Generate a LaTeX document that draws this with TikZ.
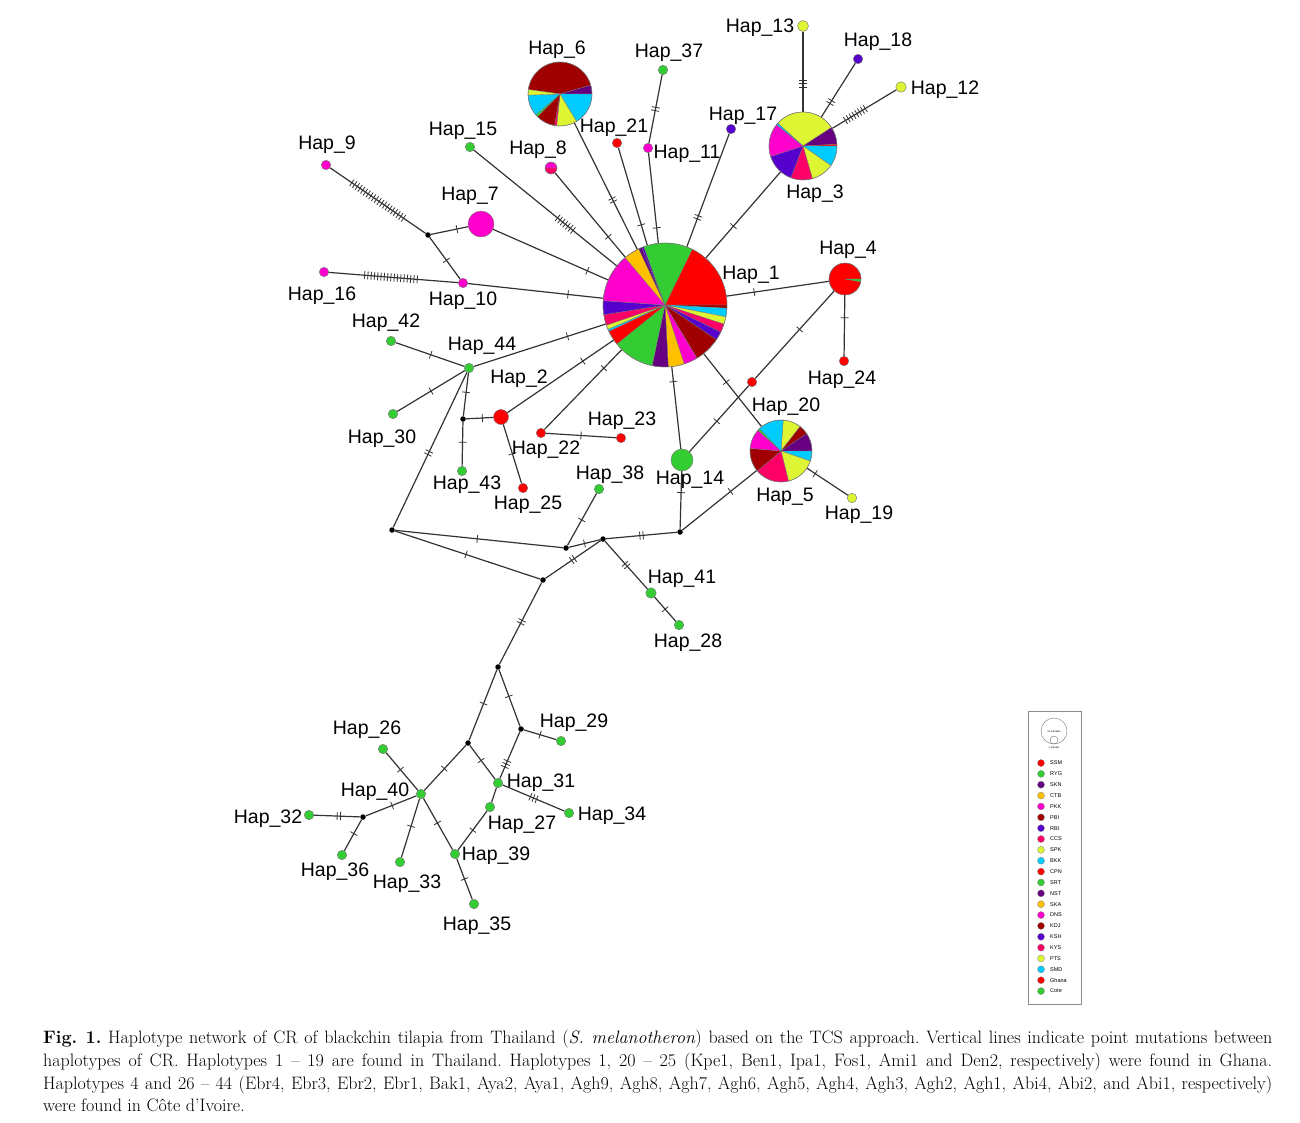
\documentclass[tikz,border=0pt]{standalone}
\usepackage{fontspec}
\newfontfamily\arial{Liberation Sans}
\usetikzlibrary{decorations.markings}

\definecolor{ssm}{RGB}{255,0,0}
\definecolor{ryg}{RGB}{51,204,51}
\definecolor{skn}{RGB}{102,0,128}
\definecolor{ctb}{RGB}{255,192,0}
\definecolor{pkk}{RGB}{255,0,204}
\definecolor{pbi}{RGB}{160,0,0}
\definecolor{rbi}{RGB}{85,0,204}
\definecolor{ccs}{RGB}{255,0,102}
\definecolor{spk}{RGB}{221,245,51}
\definecolor{bkk}{RGB}{0,204,255}

\tikzset{
	hap/.style={circle, draw=black!55, line width=0.4pt, inner sep=0pt, minimum size=9.5pt},
	big/.style={circle, inner sep=0pt, minimum size=#1},
	jn/.style={circle, fill=black, inner sep=0pt, minimum size=5.5pt},
	lab/.style={font=\arial\fontsize{19.5}{22}\selectfont, inner sep=0pt, yshift=-3pt},
	link/.style={line width=1.2pt, draw=black!80},
	mut/.style 2 args={postaction={decorate, decoration={markings, mark=at position #2 with {\foreach \k in {1,...,#1} {\draw[line width=0.8pt, black!80] ({(\k-(#1+1)/2)*3.3pt},-4pt) -- ({(\k-(#1+1)/2)*3.3pt},4pt);}}}}},
	legdot/.style={circle, draw=black!50, line width=0.3pt, inner sep=0pt, minimum size=7pt},
	legtxt/.style={font=\arial\fontsize{5.5}{6}\selectfont, inner sep=0pt, anchor=west}
}

% pie: centre node, radius, slices from/to/colour
\newcommand\hpie[3]{%
	\foreach \a/\b/\c in {#3} {\filldraw[fill=\c, draw=black!55, line width=0.3pt] (#1.center) -- ++(\a:#2) arc (\a:\b:#2) -- cycle;}
	\draw[black!55, line width=0.4pt] (#1.center) circle (#2);
}

\begin{document}
\begin{tikzpicture}[x=1pt, y=-1pt]
	\useasboundingbox (0,0) rectangle (1300,1122);

	% haplotypes with pies
	\node[big=124pt] (h1) at (665,305) {};
	\node[big=64pt] (h6) at (560,94) {};
	\node[big=68pt] (h3) at (803,146) {};
	\node[big=62pt] (h5) at (781,451) {};
	\node[big=32pt] (h4) at (845,279) {};
	\node[big=12pt] (h8) at (551,168) {};

	% single haplotypes
	\node[hap, fill=pkk, minimum size=26pt] (h7) at (481,224) {};
	\node[hap, fill=ssm, minimum size=15pt] (h2) at (501,417) {};
	\node[hap, fill=ryg, minimum size=22pt] (h14) at (682,460) {};
	\node[hap, fill=ryg] (h37) at (663,70) {};
	\node[hap, fill=ssm] (h21) at (617,143) {};
	\node[hap, fill=pkk] (h11) at (648,148) {};
	\node[hap, fill=rbi] (h17) at (731,129) {};
	\node[hap, fill=spk, minimum size=11pt] (h13) at (803,26) {};
	\node[hap, fill=rbi] (h18) at (858,59) {};
	\node[hap, fill=spk, minimum size=10.5pt] (h12) at (901,87) {};
	\node[hap, fill=ryg] (h15) at (470,147) {};
	\node[hap, fill=pkk] (h9) at (326,165) {};
	\node[hap, fill=pkk] (h16) at (324,272) {};
	\node[hap, fill=pkk] (h10) at (463,283) {};
	\node[hap, fill=ryg] (h42) at (391,341) {};
	\node[hap, fill=ryg] (h44) at (469,368) {};
	\node[hap, fill=ryg] (h30) at (393,414) {};
	\node[hap, fill=ryg] (h43) at (462,471) {};
	\node[hap, fill=ssm] (h25) at (523,488) {};
	\node[hap, fill=ssm] (h22) at (541,433) {};
	\node[hap, fill=ssm] (h23) at (621,438) {};
	\node[hap, fill=ryg] (h38) at (599,489) {};
	\node[hap, fill=ssm] (h20) at (752,382) {};
	\node[hap, fill=ssm] (h24) at (844,361) {};
	\node[hap, fill=spk] (h19) at (852,498) {};
	\node[hap, fill=ryg, minimum size=10.5pt] (h41) at (651,593) {};
	\node[hap, fill=ryg] (h28) at (679,625) {};
	\node[hap, fill=ryg] (h29) at (561,741) {};
	\node[hap, fill=ryg] (h26) at (383,749) {};
	\node[hap, fill=ryg] (h40) at (421,794) {};
	\node[hap, fill=ryg] (h31) at (498,783) {};
	\node[hap, fill=ryg] (h27) at (490,807) {};
	\node[hap, fill=ryg] (h34) at (569,813) {};
	\node[hap, fill=ryg] (h32) at (309,815) {};
	\node[hap, fill=ryg] (h36) at (342,855) {};
	\node[hap, fill=ryg] (h33) at (400,862) {};
	\node[hap, fill=ryg] (h39) at (455,854) {};
	\node[hap, fill=ryg] (h35) at (474,904) {};

	% median vectors
	\node[jn] (j1) at (428,235) {};
	\node[jn] (j2) at (463,419) {};
	\node[jn] (j3) at (392,530) {};
	\node[jn] (j4) at (566,548) {};
	\node[jn] (j5) at (603,539) {};
	\node[jn] (j6) at (680,532) {};
	\node[jn] (j7) at (543,580) {};
	\node[jn] (j8) at (498,667) {};
	\node[jn] (j9) at (468,743) {};
	\node[jn] (j10) at (521,729) {};
	\node[jn] (j11) at (363,817) {};

	% links and mutations
	\draw[link, mut={2}{0.61}] (h6) -- (h1);
	\draw[link, mut={1}{0.76}] (h8) -- (h1);
	\draw[link, mut={1}{0.79}] (h21) -- (h1);
	\draw[link, mut={2}{0.5}] (h37) -- (h11);
	\draw[link, mut={1}{0.83}] (h11) -- (h1);
	\draw[link, mut={2}{0.74}] (h17) -- (h1);
	\draw[link, mut={1}{0.63}] (h3) -- (h1);
	\draw[link, mut={3}{0.35}] (h3) -- (h13);
	\draw[link, mut={2}{0.28}] (h3) -- (h18);
	\draw[link, mut={8}{0.36}] (h3) -- (h12);
	\draw[link, mut={7}{0.64}] (h15) -- (h1);
	\draw[link, mut={20}{0.5}] (h9) -- (j1);
	\draw[link, mut={1}{0.7}] (j1) -- (h7);
	\draw[link, mut={1}{0.55}] (j1) -- (h10);
	\draw[link, mut={17}{0.48}] (h16) -- (h10);
	\draw[link, mut={1}{0.82}] (h7) -- (h1);
	\draw[link, mut={1}{0.74}] (h10) -- (h1);
	\draw[link, mut={1}{0.71}] (h44) -- (h1);
	\draw[link, mut={1}{0.71}] (h2) -- (h1);
	\draw[link, mut={1}{0.77}] (h22) -- (h1);
	\draw[link, mut={1}{0.18}] (h1) -- (h14);
	\draw[link, mut={1}{0.39}] (h1) -- (h5);
	\draw[link, mut={1}{0.27}] (h1) -- (h4);
	\draw[link, mut={1}{0.37}] (h4) -- (h24);
	\draw[link, mut={1}{0.44}] (h4) -- (h20);
	\draw[link, mut={1}{0.54}] (h20) -- (h14);
	\draw[link, mut={1}{0.37}] (h14) -- (j6);
	\draw[link, mut={1}{0.65}] (j6) -- (h5);
	\draw[link, mut={1}{0.2}] (h5) -- (h19);
	\draw[link, mut={1}{0.51}] (h42) -- (h44);
	\draw[link, mut={1}{0.5}] (h30) -- (h44);
	\draw[link, mut={1}{0.45}] (h44) -- (j2);
	\draw[link, mut={1}{0.46}] (j2) -- (h43);
	\draw[link, mut={1}{0.6}] (j2) -- (h2);
	\draw[link, mut={1}{0.5}] (h2) -- (h25);
	\draw[link, mut={1}{0.5}] (h22) -- (h23);
	\draw[link, mut={2}{0.52}] (h44) -- (j3);
	\draw[link, mut={1}{0.49}] (j3) -- (j4);
	\draw[link, mut={1}{0.49}] (j3) -- (j7);
	\draw[link, mut={1}{0.5}] (j4) -- (j5);
	\draw[link, mut={1}{0.49}] (j4) -- (h38);
	\draw[link, mut={2}{0.5}] (j5) -- (j6);
	\draw[link, mut={2}{0.5}] (j5) -- (j7);
	\draw[link, mut={2}{0.5}] (j5) -- (h41);
	\draw[link, mut={1}{0.5}] (h41) -- (h28);
	\draw[link, mut={2}{0.48}] (j7) -- (j8);
	\draw[link, mut={1}{0.48}] (j8) -- (j9);
	\draw[link, mut={1}{0.47}] (j8) -- (j10);
	\draw[link, mut={1}{0.5}] (j10) -- (h29);
	\draw[link, mut={3}{0.69}] (j10) -- (h31);
	\draw[link, mut={1}{0.45}] (j9) -- (h31);
	\draw[link, mut={1}{0.52}] (j9) -- (h40);
	\draw[link, mut={3}{0.5}] (h31) -- (h34);
	\draw[link] (h31) -- (h27);
	\draw[link, mut={1}{0.49}] (h27) -- (h39);
	\draw[link, mut={1}{0.45}] (h26) -- (h40);
	\draw[link, mut={1}{0.48}] (h40) -- (j11);
	\draw[link, mut={2}{0.46}] (j11) -- (h32);
	\draw[link, mut={1}{0.45}] (j11) -- (h36);
	\draw[link, mut={1}{0.47}] (h40) -- (h33);
	\draw[link, mut={1}{0.48}] (h40) -- (h39);
	\draw[link, mut={1}{0.5}] (h39) -- (h35);

	% pies
	\hpie{h1}{62}{-64/0/ssm, 0/3/pbi, 3/11/bkk, 11/18/spk, 18/26/ccs, 26/34/rbi, 34/59/pbi, 59/72/pkk, 72/87/ctb, 87/102/skn, 102/141/ryg, 141/155/ssm, 155/157/bkk, 157/161/spk, 161/171/ccs, 171/184/rbi, 184/230/pkk, 230/245/ctb, 245/248/skn, 248/250/rbi, 250/296/ryg}
	\hpie{h6}{32}{188/344/pbi, 344/360/skn, 0/59/bkk, 59/96/spk, 96/100/ccs, 100/135/pbi, 135/139/ryg, 139/178/bkk, 178/188/spk}
	\hpie{h3}{34}{222/327/spk, 327/357/skn, 357/360/ssm, 0/35/bkk, 35/74/spk, 74/111/ccs, 111/162/rbi, 162/219/pkk, 219/222/bkk}
	\hpie{h5}{31}{274/308/spk, 308/326/pbi, 326/360/skn, 0/19/bkk, 19/76/spk, 76/140/ccs, 140/185/pbi, 185/222/pkk, 222/226/ryg, 226/274/bkk}
	\hpie{h4}{16}{10/360/ssm, 0/10/ryg}
	\hpie{h8}{6}{180/360/pkk, 0/180/ccs}

	% labels
	\node[lab] (l1) at (751,272) {Hap\_1};
	\node[lab] (l2) at (519,376) {Hap\_2};
	\node[lab] (l3) at (815,191) {Hap\_3};
	\node[lab] (l4) at (848,247) {Hap\_4};
	\node[lab] (l5) at (785,494) {Hap\_5};
	\node[lab] (l6) at (557,47) {Hap\_6};
	\node[lab] (l7) at (470,193) {Hap\_7};
	\node[lab] (l8) at (538,147) {Hap\_8};
	\node[lab] (l9) at (327,142) {Hap\_9};
	\node[lab] (l10) at (463,298) {Hap\_10};
	\node[lab] (l11) at (687,151) {Hap\_11};
	\node[lab] (l12) at (945,87) {Hap\_12};
	\node[lab] (l13) at (760,25) {Hap\_13};
	\node[lab] (l14) at (690,477) {Hap\_14};
	\node[lab] (l15) at (463,128) {Hap\_15};
	\node[lab] (l16) at (322,293) {Hap\_16};
	\node[lab] (l17) at (743,113) {Hap\_17};
	\node[lab] (l18) at (878,39) {Hap\_18};
	\node[lab] (l19) at (859,512) {Hap\_19};
	\node[lab] (l20) at (786,404) {Hap\_20};
	\node[lab] (l21) at (614,125) {Hap\_21};
	\node[lab] (l22) at (546,447) {Hap\_22};
	\node[lab] (l23) at (622,418) {Hap\_23};
	\node[lab] (l24) at (842,377) {Hap\_24};
	\node[lab] (l25) at (528,502) {Hap\_25};
	\node[lab] (l26) at (367,727) {Hap\_26};
	\node[lab] (l27) at (522,822) {Hap\_27};
	\node[lab] (l28) at (688,640) {Hap\_28};
	\node[lab] (l29) at (574,720) {Hap\_29};
	\node[lab] (l30) at (382,436) {Hap\_30};
	\node[lab] (l31) at (541,780) {Hap\_31};
	\node[lab] (l32) at (268,816) {Hap\_32};
	\node[lab] (l33) at (407,881) {Hap\_33};
	\node[lab] (l34) at (612,813) {Hap\_34};
	\node[lab] (l35) at (477,923) {Hap\_35};
	\node[lab] (l36) at (335,869) {Hap\_36};
	\node[lab] (l37) at (669,50) {Hap\_37};
	\node[lab] (l38) at (610,472) {Hap\_38};
	\node[lab] (l39) at (496,853) {Hap\_39};
	\node[lab] (l40) at (375,789) {Hap\_40};
	\node[lab] (l41) at (682,576) {Hap\_41};
	\node[lab] (l42) at (386,320) {Hap\_42};
	\node[lab] (l43) at (467,482) {Hap\_43};
	\node[lab] (l44) at (482,343) {Hap\_44};

	% legend
	\node[draw=black!45, line width=0.8pt, minimum width=53pt, minimum height=293pt, inner sep=0pt] (leg) at (1054.5,857.5) {};
	\node[circle, draw=black!55, line width=0.4pt, minimum size=26pt, inner sep=0pt] (ten) at (1054,731) {};
	\node[circle, draw=black!55, line width=0.4pt, minimum size=8pt, inner sep=0pt, anchor=south] (one) at (ten.south) {};
	\node[font=\arial\fontsize{2.6}{3}\selectfont, inner sep=0pt] (tentxt) at (1054,732) {10 samples};
	\node[font=\arial\fontsize{2.6}{3}\selectfont, inner sep=0pt] (onetxt) at (1054,748) {1 sample};
	\foreach \t/\c [count=\i from 0] in {SSM/ssm, RYG/ryg, SKN/skn, CTB/ctb, PKK/pkk, PBI/pbi, RBI/rbi, CCS/ccs, SPK/spk, BKK/bkk, CPN/ssm, SRT/ryg, NST/skn, SKA/ctb, DNS/pkk, KDJ/pbi, KSH/rbi, KYS/ccs, PTS/spk, SMD/bkk, Ghana/ssm, Cote/ryg} {
		\node[legdot, fill=\c] (d\i) at (1041,{763+\i*10.86}) {};
		\node[legtxt] (t\i) at (1050,{763+\i*10.86}) {\t};
	}

	% caption
	\node[anchor=north west, text width=1229pt, inner sep=0pt, align=justify, font=\fontsize{18}{22.7}\selectfont\frenchspacing] (cap) at (43,1030) {\textbf{Fig. 1.} Haplotype network of CR of blackchin tilapia from Thailand (\textit{S. melanotheron}) based on the TCS approach. Vertical lines indicate point mutations between\linebreak haplotypes of CR. Haplotypes 1 -- 19 are found in Thailand. Haplotypes 1, 20 -- 25 (Kpe1, Ben1, Ipa1, Fos1, Ami1 and Den2, respectively) were found in Ghana.\linebreak Haplotypes 4 and 26 -- 44 (Ebr4, Ebr3, Ebr2, Ebr1, Bak1, Aya2, Aya1, Agh9, Agh8, Agh7, Agh6, Agh5, Agh4, Agh3, Agh2, Agh1, Abi4, Abi2, and Abi1, respectively)\linebreak were found in Côte d’Ivoire.};
\end{tikzpicture}
\end{document}
